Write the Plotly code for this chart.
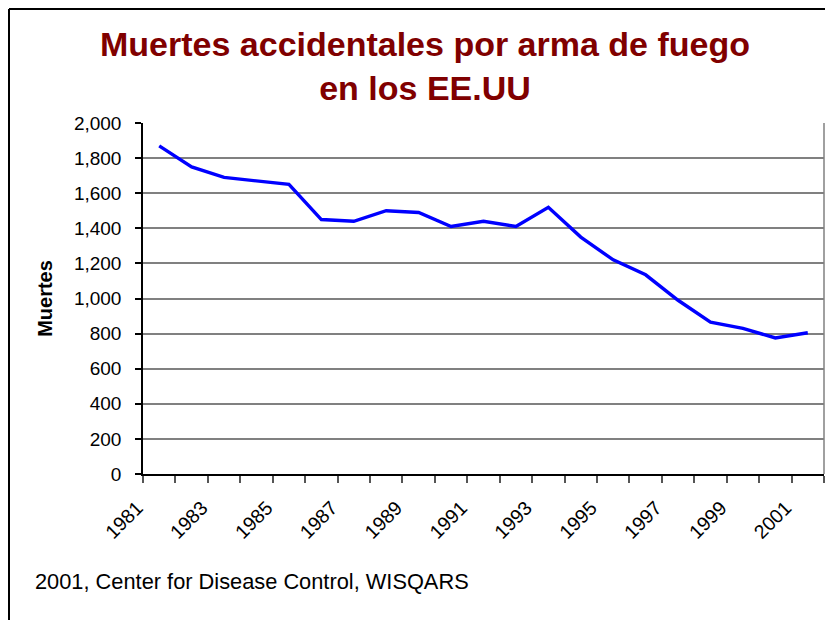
import plotly.graph_objects as go

# Accidental firearm deaths, USA
years = [str(y) for y in range(1981, 2002)]
deaths = [1870, 1750, 1690, 1670, 1650, 1450, 1440, 1500, 1490, 1410,
          1440, 1410, 1520, 1350, 1220, 1135, 990, 865, 830, 775, 805]
tick_labels = [y if i % 2 == 0 else "" for i, y in enumerate(years)]

# the page puts the figure 8px in from the top-left corner
W, H = 825, 612
L, R, T, B = 135, 9, 115, 146
pw, ph = W - L - R, H - T - B


def px_x(x):
    return (x - L) / pw


def px_y(y):
    return (H - B - y) / ph


fig = go.Figure()
fig.add_trace(go.Scatter(
    x=years, y=deaths, mode="lines",
    line=dict(color="#0000FF", width=3.4),
    hoverinfo="x+y", showlegend=False,
))

fig.update_layout(
    width=W, height=H,
    margin=dict(l=L, r=R, t=T, b=B, autoexpand=False),
    paper_bgcolor="white", plot_bgcolor="white",
    font=dict(family="Liberation Sans, Arial, sans-serif", color="black"),
    title=dict(
        text="Muertes accidentales por arma de fuego<br>en los EE.UU",
        x=417 / W, xanchor="center", xref="container",
        y=1 - 48 / H, yanchor="top", yref="container",
        font=dict(size=34, color="#800000", family="Liberation Sans, Arial, sans-serif",
                  weight="bold"),
    ),
    xaxis=dict(
        type="category",
        range=[-0.5, len(years) - 0.5],
        tickvals=years, ticktext=tick_labels,
        tickson="boundaries",
        tickangle=-45,
        ticks="outside", ticklen=7, tickcolor="#555555", tickwidth=1.5,
        showgrid=False, zeroline=False,
        showline=True, linecolor="black", linewidth=1.5,
        tickfont=dict(size=19.5),
        ticklabelstandoff=13,
        ticklabelshift=-22,
        automargin=False,
    ),
    yaxis=dict(
        range=[0, 2000], dtick=200, tickformat=",",
        ticks="outside", ticklen=6, tickcolor="black", tickwidth=1.5,
        showgrid=True, gridcolor="#808080", gridwidth=1.5,
        zeroline=False,
        showline=True, linecolor="black", linewidth=1.5,
        tickfont=dict(size=19),
        ticklabelstandoff=10,
        title=dict(text="<b>Muertes</b>", font=dict(size=20), standoff=16),
        automargin=False,
    ),
    shapes=[
        # plot-area right border
        dict(type="line", xref="paper", yref="paper", x0=1, x1=1, y0=0, y1=1,
             line=dict(color="#808080", width=1.5)),
        # outer chart frame (top and left edges visible)
        dict(type="line", xref="paper", yref="paper",
             x0=px_x(1), x1=px_x(W + 10), y0=px_y(1), y1=px_y(1),
             line=dict(color="black", width=2)),
        dict(type="line", xref="paper", yref="paper",
             x0=px_x(1), x1=px_x(1), y0=px_y(1), y1=px_y(H + 10),
             line=dict(color="black", width=2)),
    ],
    annotations=[
        dict(text="2001, Center for Disease Control, WISQARS",
             xref="paper", yref="paper", x=px_x(25), y=px_y(573),
             xanchor="left", yanchor="middle", showarrow=False,
             font=dict(size=21.8, color="black")),
    ],
)

fig.write_html("out.html")
